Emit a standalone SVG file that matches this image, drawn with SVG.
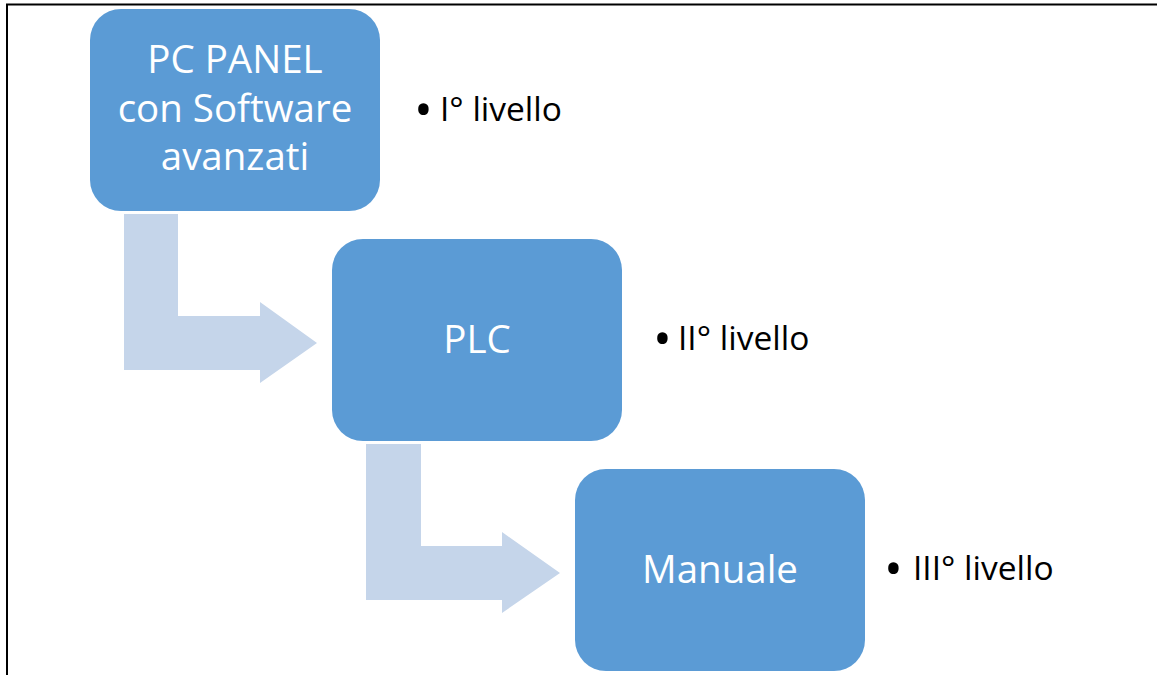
<svg xmlns="http://www.w3.org/2000/svg" width="1157" height="675" viewBox="0 0 1157 675">
<style>
.box{fill:#5B9BD5;}
.arr{fill:#C5D5EA;}
.bt{font-family:"Open Sans","Liberation Sans",sans-serif;font-size:38.5px;fill:#FFFFFF;text-anchor:middle;}
.lbl{font-family:"Open Sans","Liberation Sans",sans-serif;font-size:33.5px;fill:#000000;}
.bul{font-size:50px;}
.frame{stroke:#000000;stroke-width:2;fill:none;}
</style>
<rect x="0" y="0" width="1157" height="675" fill="#FFFFFF"/>
<path class="frame" d="M7,675 L7,4.5 L1157,4.5"/>
<g id="connectors">
<path class="arr" d="M124,214 L178,214 L178,316 L260,316 L260,302 L317,343 L260,383 L260,370 L124,370 Z"/>
<path class="arr" d="M366,444 L421,444 L421,546 L502,546 L502,532 L560,573 L502,613 L502,600 L366,600 Z"/>
</g>
<g id="node-pc">
<rect class="box" x="90" y="9" width="290" height="202" rx="31" ry="31"/>
<text class="bt" x="235" y="73">PC PANEL</text>
<text class="bt" x="235" y="122">con Software</text>
<text class="bt" x="235" y="170">avanzati</text>
</g>
<g id="node-plc">
<rect class="box" x="332" y="239" width="290" height="202" rx="31" ry="31"/>
<text class="bt" x="477" y="353">PLC</text>
</g>
<g id="node-manuale">
<rect class="box" x="575" y="469" width="290" height="202" rx="31" ry="31"/>
<text class="bt" x="720" y="583">Manuale</text>
</g>
<g id="label-1">
<text class="lbl" x="414" y="127"><tspan class="bul">•</tspan><tspan x="440" y="121">I° livello</tspan></text>
</g>
<g id="label-2">
<text class="lbl" x="653" y="356"><tspan class="bul">•</tspan><tspan x="678" y="350">II° livello</tspan></text>
</g>
<g id="label-3">
<text class="lbl" x="884" y="586"><tspan class="bul">•</tspan><tspan x="913" y="580">III° livello</tspan></text>
</g>
</svg>
